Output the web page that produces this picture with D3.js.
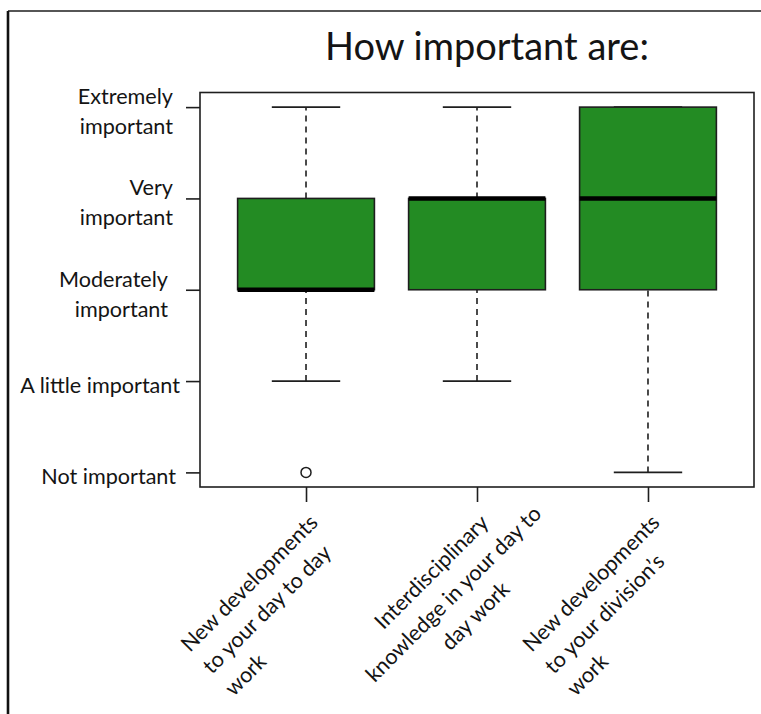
<!DOCTYPE html>
<html>
<head>
<meta charset="utf-8">
<script src="https://cdn.jsdelivr.net/npm/d3@7"></script>
<style>
  html, body { margin: 0; padding: 0; background: #fff; }
  svg { display: block; }
  text { font-family: Lato, "Open Sans", sans-serif; fill: #141414; }
</style>
</head>
<body>
<svg id="chart" width="761" height="714"></svg>
<script>
// Survey items (one box per item), each label split into its display lines
const categories = [
  ["New developments", "to your day to day", "work"],
  ["Interdisciplinary", "knowledge in your day to", "day work"],
  ["New developments", "to your division\u2019s", "work"]
];

// Five-point importance scale
const levelValues = [1, 2, 3, 4, 5];
const levelLabels = [
  ["Not important"],
  ["A little important"],
  ["Moderately", "important"],
  ["Very", "important"],
  ["Extremely", "important"]
];

// Box-plot summaries per item
const whiskerLow  = [2, 2, 1];
const q1          = [3, 3, 3];
const median      = [3, 4, 4];
const q3          = [4, 4, 5];
const whiskerHigh = [5, 5, 5];
const outliers    = [[1], [], []];

const title = "How important are:";

// ---- layout ----
const W = 761, H = 714;
const plot = { left: 200, right: 754, top: 92.5, bottom: 487 };
const labelAlign = ["start", "middle", "start"];
const levelLabelNudge = [0, 4, -8, -3, -3];
const labelSize = "21.6px";
const green = "#238b23";
const ink = "#1e1e1e";

const svg = d3.select("#chart");

// slide frame (top and left edge)
svg.append("line").attr("x1", 8).attr("x2", W).attr("y1", 11).attr("y2", 11)
  .attr("stroke", ink).attr("stroke-width", 1.6);
svg.append("line").attr("x1", 8).attr("x2", 8).attr("y1", 11).attr("y2", H)
  .attr("stroke", "#111").attr("stroke-width", 2.6);

// title
svg.append("text")
  .attr("x", 487).attr("y", 60)
  .attr("text-anchor", "middle")
  .style("font-size", "38px")
  .text(title);

// scales (R-style 4% padding around the data range)
const x = d3.scaleLinear().domain([0.38, 3.62]).range([plot.left, plot.right]);
const y = d3.scaleLinear().domain([0.84, 5.16]).range([plot.bottom, plot.top]);
const unit = x(2) - x(1);
const boxHalf = unit * 0.4;
const capHalf = unit * 0.2;

// axes: tick marks only, labels drawn separately
const yAxis = d3.axisLeft(y).tickValues(levelValues).tickSize(14).tickFormat("");
const gy = svg.append("g").attr("transform", `translate(${plot.left},0)`).call(yAxis);
const xAxis = d3.axisBottom(x).tickValues(categories.map((_, i) => i + 1)).tickSize(15).tickFormat("");
const gx = svg.append("g").attr("transform", `translate(0,${plot.bottom})`).call(xAxis);
[gx, gy].forEach(g => {
  g.select(".domain").remove();
  g.selectAll(".tick line").attr("stroke", ink).attr("stroke-width", 1.6);
});

// plot frame
svg.append("rect")
  .attr("x", plot.left).attr("y", plot.top)
  .attr("width", plot.right - plot.left).attr("height", plot.bottom - plot.top)
  .attr("fill", "none").attr("stroke", ink).attr("stroke-width", 1.6);

// y level labels, right-aligned beside the ticks
const lineH = 30;
levelValues.forEach((v, i) => {
  const lines = levelLabels[i];
  const t = svg.append("text")
    .attr("text-anchor", "end")
    .style("font-size", labelSize);
  lines.forEach((ln, j) => {
    t.append("tspan")
      .attr("x", 176 + levelLabelNudge[i])
      .attr("y", y(v) + 4 + (j - (lines.length - 1) / 2) * lineH)
      .attr("dominant-baseline", "central")
      .text(ln);
  });
});

// boxes
const boxes = svg.append("g");
categories.forEach((c, i) => {
  const cx = x(i + 1);
  const g = boxes.append("g");
  // whiskers
  [[q3[i], whiskerHigh[i]], [whiskerLow[i], q1[i]]].forEach(([a, b]) => {
    if (a === b) return;
    g.append("line").attr("x1", cx).attr("x2", cx).attr("y1", y(a)).attr("y2", y(b))
      .attr("stroke", ink).attr("stroke-width", 1.6).attr("stroke-dasharray", "6,5");
  });
  [whiskerLow[i], whiskerHigh[i]].forEach(v => {
    g.append("line").attr("x1", cx - capHalf).attr("x2", cx + capHalf)
      .attr("y1", y(v)).attr("y2", y(v))
      .attr("stroke", ink).attr("stroke-width", 1.8);
  });
  // box
  g.append("rect")
    .attr("x", cx - boxHalf).attr("width", boxHalf * 2)
    .attr("y", y(q3[i])).attr("height", y(q1[i]) - y(q3[i]))
    .attr("fill", green).attr("stroke", ink).attr("stroke-width", 1.6);
  // median
  g.append("line").attr("x1", cx - boxHalf).attr("x2", cx + boxHalf)
    .attr("y1", y(median[i])).attr("y2", y(median[i]))
    .attr("stroke", "#000").attr("stroke-width", 4.5);
  // outliers
  outliers[i].forEach(v => {
    g.append("circle").attr("cx", cx).attr("cy", y(v)).attr("r", 5)
      .attr("fill", "none").attr("stroke", ink).attr("stroke-width", 1.5);
  });
});

// rotated category labels; the first line ends just below-right of the tick
const catLineH = 31;
categories.forEach((lines, i) => {
  const ax = x(i + 1) + 13, ay = plot.bottom + 37;
  const g = svg.append("g").attr("transform", `translate(${ax},${ay}) rotate(-45)`);
  const first = g.append("text").style("font-size", labelSize).text(lines[0]);
  const w1 = first.node().getComputedTextLength();
  first.remove();
  const align = labelAlign[i];
  const x0 = align === "start" ? -w1 : -w1 / 2;
  lines.forEach((ln, j) => {
    g.append("text")
      .attr("x", x0).attr("y", j * catLineH)
      .attr("text-anchor", align)
      .style("font-size", labelSize)
      .text(ln);
  });
});
</script>
</body>
</html>
